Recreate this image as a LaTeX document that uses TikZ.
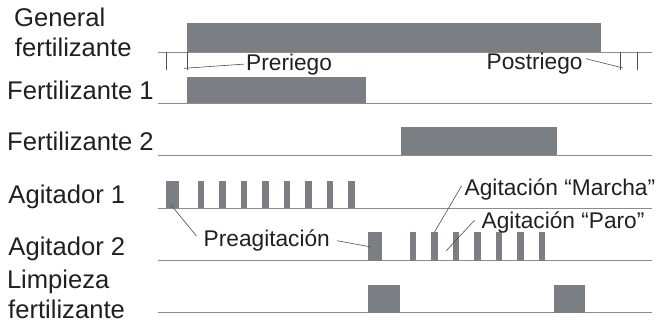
\documentclass[tikz,border=0pt]{standalone}
\usepackage{fontspec}
\setmainfont{Liberation Sans}
\usetikzlibrary{calc}
\definecolor{barc}{HTML}{7B7F83}
\definecolor{basec}{HTML}{8C8C8C}
\definecolor{leadc}{HTML}{4D4D4D}
\definecolor{txtc}{HTML}{231F20}
\begin{document}
\begin{tikzpicture}[x=1pt,y=-1pt,
  lbl/.style={font=\fontsize{25.6}{30}\selectfont, anchor=base west, inner sep=0pt, text=txtc},
  ann/.style={font=\fontsize{22.7}{27}\selectfont, anchor=base west, inner sep=0pt, text=txtc},
  bar/.style={fill=barc, draw=none, inner sep=0pt, outer sep=0pt, anchor=south west},
  baseln/.style={draw=basec, line width=0.9pt},
  tickln/.style={draw=leadc, line width=0.6pt},
  lead/.style={draw=leadc, line width=0.6pt}]
\useasboundingbox (0,0) rectangle (656,324);

% baselines
\foreach \n/\y in {g/52, f1/103, f2/155, a1/208, a2/260.7, l/312.7}{
  \coordinate (\n L) at (158,\y);
  \coordinate (\n R) at (652,\y);
  \draw[baseln] (\n L) -- (\n R);
}

% ticks (preriego / postriego)
\foreach \k/\x in {1/166, 2/187, 3/620, 4/637}{
  \coordinate (tk\k a) at (\x,52);
  \coordinate (tk\k b) at (\x,70);
  \draw[tickln] (tk\k a) -- (tk\k b);
}

% bars
\node[bar, minimum width=414pt, minimum height=28.7pt] (gen) at (187,52) {};
\node[bar, minimum width=179pt, minimum height=26.5pt] (f1) at (187,103) {};
\node[bar, minimum width=156pt, minimum height=27.7pt] (f2) at (401,155) {};

\node[bar, minimum width=13.3pt, minimum height=27.3pt] (a1p0) at (165.7,208) {};
\foreach \i/\x in {1/197.5, 2/219, 3/240.5, 4/262, 5/283.5, 6/305, 7/326.5, 8/348}{
  \node[bar, minimum width=6.7pt, minimum height=27.3pt] (a1p\i) at (\x,208) {};
}
\node[bar, minimum width=13.4pt, minimum height=28.4pt] (a2p0) at (368.3,260.7) {};
\foreach \i/\x in {1/409.5, 2/431, 3/452.5, 4/474, 5/495.5, 6/517, 7/538.5}{
  \node[bar, minimum width=6.7pt, minimum height=28.4pt] (a2p\i) at (\x,260.7) {};
}
\node[bar, minimum width=32pt, minimum height=27.7pt] (lp1) at (368,312.7) {};
\node[bar, minimum width=31pt, minimum height=27.7pt] (lp2) at (554,312.7) {};

% labels
\node[lbl] (lgen1) at (14,26.7) {General};
\node[lbl] (lgen2) at (14.7,56.7) {fertilizante};
\node[lbl] (lf1) at (7,99.3) {Fertilizante 1};
\node[lbl] (lf2) at (7,150.7) {Fertilizante 2};
\node[lbl] (la1) at (8.3,203.3) {Agitador 1};
\node[lbl] (la2) at (8.3,255) {Agitador 2};
\node[lbl] (ll1) at (6.8,288) {Limpieza};
\node[lbl] (ll2) at (8,318.3) {fertilizante};

% annotations
\node[ann] (preT) at (246,70) {Preriego};
\node[ann] (postT) at (486.5,69.5) {Postriego};
\node[ann] (preaT) at (203.5,246.7) {Preagitación};
\node[ann] (marT) at (464.5,195) {Agitación “Marcha”};
\node[ann] (paroT) at (481.5,228.3) {Agitación “Paro”};

% leader lines
\coordinate (preE) at (184,68.3);
\draw[lead] ([xshift=-2pt]preT.west) -- (preE);
\coordinate (postE) at (623,68);
\draw[lead] ([xshift=3pt,yshift=5pt]postT.east) -- (postE);
\coordinate (preaS) at (171,205);
\draw[lead] ([xshift=-7pt,yshift=4.7pt]preaT.west) -- (preaS);
\coordinate (preaE) at (371,247);
\draw[lead] ([xshift=7pt]preaT.east) -- (preaE);
\draw[lead] ([xshift=-3pt,yshift=3pt]marT.west) -- (a2p2.north);
\coordinate (paroE) at (446,251);
\draw[lead] ([xshift=-7pt,yshift=2pt]paroT.west) -- (paroE);
\end{tikzpicture}
\end{document}
